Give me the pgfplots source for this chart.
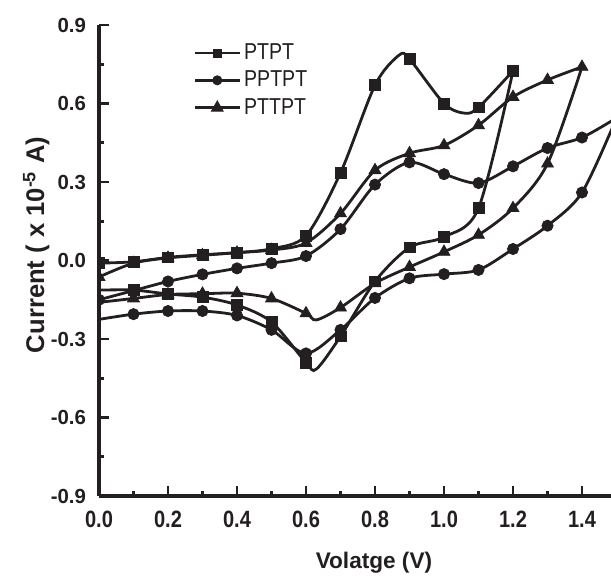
\documentclass[border=0pt]{standalone}
\usepackage{pgfplots}
\pgfplotsset{compat=1.18}
\usepackage{fontspec}
\setmainfont{Liberation Sans}
\newfontfamily\narrowfont{Liberation Sans}[FakeStretch=0.85]
\definecolor{ink}{HTML}{231F20}

\begin{document}
\begin{tikzpicture}
\begin{axis}[
  scale only axis, width=256pt, height=235.5pt,
  xmin=0, xmax=1.484, ymin=-0.9, ymax=0.9,
  axis lines=left,
  axis line style={-, line width=1.6pt, color=ink},
  tick align=inside,
  major tick length=5pt, minor tick length=2.5pt,
  tick style={line width=1.3pt, color=ink},
  xtick={0,0.2,0.4,0.6,0.8,1.0,1.2,1.4},
  ytick={-0.9,-0.6,-0.3,0,0.3,0.6,0.9},
  minor x tick num=1, minor y tick num=1,
  /pgf/number format/.cd, fixed, fixed zerofill, precision=1, assume math mode=true, /pgfplots/.cd,
  xticklabel style={font=\narrowfont\bfseries\fontsize{11.8}{12}\selectfont, text=ink},
  yticklabel style={font=\bfseries\fontsize{10.2}{11}\selectfont, text=ink},
  xticklabel shift=4pt, yticklabel shift=3pt,
  xlabel={Volatge (V)},
  ylabel={Current ( x 10\textsuperscript{-5} A)},
  xlabel style={at={(axis description cs:0.537,-0.1529)}, anchor=base, font=\bfseries\fontsize{11.3}{12}\selectfont, text=ink},
  ylabel style={at={(axis description cs:-0.1074,0.533)}, anchor=base, font=\bfseries\fontsize{12.8}{13}\selectfont, text=ink},
  legend style={at={(axis description cs:0.1836,0.968)}, anchor=north west, draw=none, fill=none, inner sep=0pt, row sep=1.3pt,
    font=\narrowfont\fontsize{11.5}{12}\selectfont, nodes={inner sep=1.5pt, text=ink}},
  legend cell align=left,
  clip marker paths=true,
]
% ---------------- PTPT ----------------
\addplot[ink, line width=1.4pt, smooth, tension=0.5, no marks, forget plot] coordinates {
 (0,-0.01) (0.1,-0.005) (0.2,0.012) (0.3,0.022) (0.4,0.03) (0.5,0.045) (0.6,0.095) (0.7,0.335) (0.8,0.67) (0.87,0.785) (0.9,0.77) (1.0,0.60) (1.06,0.563) (1.1,0.585) (1.2,0.725)
};
\addplot[ink, line width=1.4pt, smooth, tension=0.5, no marks, forget plot] coordinates {
 (1.2,0.725) (1.1,0.20) (1.0,0.09) (0.9,0.05) (0.8,-0.08) (0.7,-0.29) (0.63,-0.415) (0.6,-0.39) (0.5,-0.235) (0.4,-0.17) (0.3,-0.14) (0.2,-0.128) (0.1,-0.113) (0,-0.113)
};
\addplot[ink, only marks, mark=square*, mark size=2.7pt,
  legend image code/.code={\draw[line width=1.4pt, ink] (0pt,0pt) -- (22.5pt,0pt); \draw[ink, mark=square*, mark size=2pt] plot coordinates {(11.25pt,0pt)};}] coordinates {
 (0,-0.01) (0.1,-0.005) (0.2,0.012) (0.3,0.022) (0.4,0.03) (0.5,0.045) (0.6,0.095) (0.7,0.335) (0.8,0.67) (0.9,0.77) (1.0,0.60) (1.1,0.585) (1.2,0.725)
 (1.1,0.20) (1.0,0.09) (0.9,0.05) (0.8,-0.08) (0.7,-0.29) (0.6,-0.39) (0.5,-0.235) (0.4,-0.17) (0.3,-0.14) (0.2,-0.128) (0.1,-0.113)
};
\addlegendentry{PTPT}
% ---------------- PPTPT ----------------
\addplot[ink, line width=1.4pt, smooth, tension=0.5, no marks, forget plot] coordinates {
 (0,-0.15) (0.1,-0.115) (0.2,-0.08) (0.3,-0.053) (0.4,-0.03) (0.5,-0.01) (0.6,0.017) (0.7,0.12) (0.8,0.29) (0.9,0.375) (1.0,0.33) (1.1,0.296) (1.2,0.36) (1.3,0.43) (1.4,0.47) (1.5,0.545)
};
\addplot[ink, line width=1.4pt, smooth, tension=0.5, no marks, forget plot] coordinates {
 (1.5,0.545) (1.4,0.26) (1.3,0.133) (1.2,0.044) (1.1,-0.036) (1.0,-0.052) (0.9,-0.068) (0.8,-0.143) (0.7,-0.265) (0.6,-0.355) (0.5,-0.265) (0.4,-0.21) (0.3,-0.193) (0.2,-0.193) (0.1,-0.205) (0,-0.225)
};
\addplot[ink, only marks, mark=*, mark size=2.8pt,
  legend image code/.code={\draw[line width=1.4pt, ink] (0pt,0pt) -- (22.5pt,0pt); \draw[ink, mark=*, mark size=2.3pt] plot coordinates {(11.25pt,0pt)};}] coordinates {
 (0,-0.15) (0.1,-0.115) (0.2,-0.08) (0.3,-0.053) (0.4,-0.03) (0.5,-0.01) (0.6,0.017) (0.7,0.12) (0.8,0.29) (0.9,0.375) (1.0,0.33) (1.1,0.296) (1.2,0.36) (1.3,0.43) (1.4,0.47)
 (1.4,0.26) (1.3,0.133) (1.2,0.044) (1.1,-0.036) (1.0,-0.052) (0.9,-0.068) (0.8,-0.143) (0.7,-0.265) (0.6,-0.355) (0.5,-0.265) (0.4,-0.21) (0.3,-0.193) (0.2,-0.193) (0.1,-0.205)
};
\addlegendentry{PPTPT}
% ---------------- PTTPT ----------------
\addplot[ink, line width=1.4pt, smooth, tension=0.5, no marks, forget plot] coordinates {
 (0,-0.063) (0.1,-0.01) (0.2,0.01) (0.3,0.02) (0.4,0.03) (0.5,0.04) (0.6,0.067) (0.7,0.18) (0.8,0.345) (0.9,0.41) (1.0,0.44) (1.1,0.517) (1.2,0.625) (1.3,0.69) (1.4,0.74)
};
\addplot[ink, line width=1.4pt, smooth, tension=0.5, no marks, forget plot] coordinates {
 (1.4,0.74) (1.3,0.37) (1.2,0.2) (1.1,0.098) (1.0,0.033) (0.9,-0.025) (0.8,-0.087) (0.7,-0.18) (0.63,-0.227) (0.6,-0.202) (0.5,-0.145) (0.4,-0.125) (0.3,-0.127) (0.2,-0.13) (0.1,-0.145) (0,-0.16)
};
\addplot[ink, only marks, mark=triangle*, mark size=3.4pt,
  legend image code/.code={\draw[line width=1.4pt, ink] (0pt,0pt) -- (22.5pt,0pt); \draw[ink, mark=triangle*, mark size=3.4pt] plot coordinates {(11.25pt,0pt)};}] coordinates {
 (0,-0.063) (0.1,-0.01) (0.2,0.01) (0.3,0.02) (0.4,0.03) (0.5,0.04) (0.6,0.067) (0.7,0.18) (0.8,0.345) (0.9,0.41) (1.0,0.44) (1.1,0.517) (1.2,0.625) (1.3,0.69) (1.4,0.74)
 (1.3,0.37) (1.2,0.2) (1.1,0.098) (1.0,0.033) (0.9,-0.025) (0.8,-0.087) (0.7,-0.18) (0.6,-0.202) (0.5,-0.145) (0.4,-0.125) (0.3,-0.127) (0.2,-0.13) (0.1,-0.145)
};
\addlegendentry{PTTPT}
\end{axis}
\pgfresetboundingbox
\path[use as bounding box] (-49.5pt,-39.5pt) rectangle (256pt,248pt);
\end{tikzpicture}
\end{document}
